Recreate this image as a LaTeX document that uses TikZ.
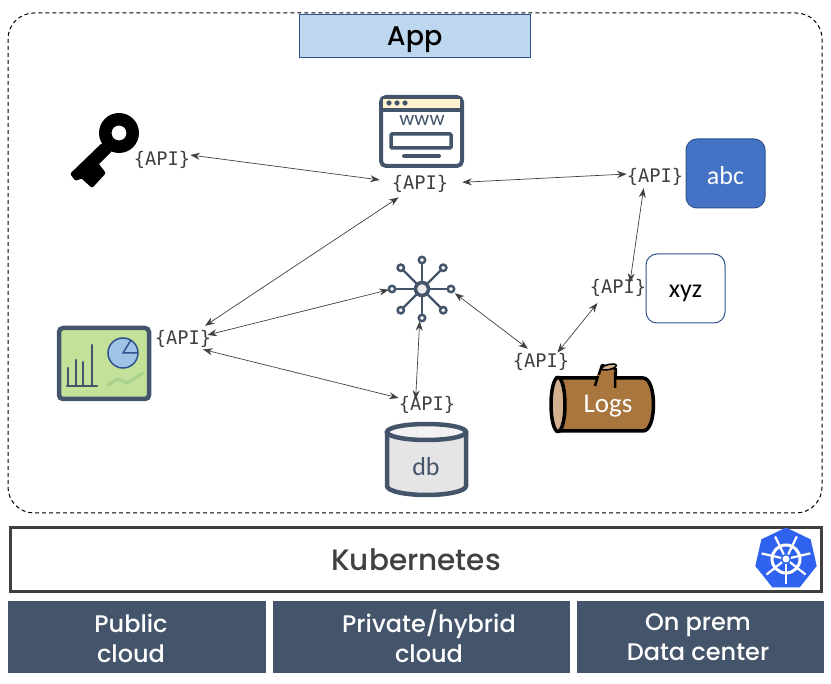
\documentclass[tikz,border=0pt]{standalone}
\usepackage{fontspec}
\setmainfont{Carlito}
\newfontfamily\apifont{DejaVu Sans Mono}
\newfontfamily\titlefont[UprightFont=* Medium]{Poppins}
\usetikzlibrary{arrows.meta,shapes.geometric}
\definecolor{slate}{HTML}{44546A}
\definecolor{rope}{HTML}{404040}
\definecolor{bark}{HTML}{A9763E}
\definecolor{barkcut}{HTML}{D2B08E}
\definecolor{office}{HTML}{4472C4}
\definecolor{officeline}{HTML}{2F528F}
\definecolor{sky}{HTML}{BDD7EE}
\definecolor{pie}{HTML}{9DC3E6}
\definecolor{leaf}{HTML}{C3E199}
\definecolor{trend}{HTML}{A9D18E}
\definecolor{cream}{HTML}{FFF2CC}
\definecolor{kblue}{HTML}{2F62EE}

\begin{document}
\begin{tikzpicture}[x=1pt, y=-1pt, >={Stealth[length=9.5pt,width=7pt]},
    api/.style={font=\apifont\fontsize{18.7}{18}\selectfont, text=rope, inner sep=0pt, minimum width=56pt, minimum height=24pt, text height=16pt, text depth=2.5pt},
    apilink/.style={<->, rope, line width=0.7pt},
    title/.style={font=\titlefont\fontsize{#1}{30}\selectfont, align=center},
    cloud/.style={fill=slate, inner sep=0pt, anchor=north west},
    cloudtext/.style={text=white, inner sep=0pt, title=24},
    box/.style={draw=officeline, line width=1pt, rounded corners=11pt, inner sep=0pt, minimum width=79pt, minimum height=69pt, font=\fontsize{26}{30}\selectfont}]
    \useasboundingbox (0,0) rectangle (831,684);

    % frame and layers
    \draw[dashed, line width=1pt, dash pattern=on 4pt off 3pt, rounded corners=26pt] (8,13) rectangle (822,513);
    \node[draw=officeline, fill=sky, inner sep=0pt, minimum width=231pt, minimum height=43pt, anchor=north west, title=27, text height=23pt, text depth=2.5pt] (app) at (299,14) {App};
    \node[draw=rope, line width=3pt, inner sep=0pt, minimum width=811pt, minimum height=64pt, anchor=north west, text=rope, title=29.5] (kube) at (9,526) {Kubernetes};
    \node[cloud, minimum width=258pt, minimum height=72pt] (public) at (8,601) {};
    \node[cloud, minimum width=297pt, minimum height=72pt] (private) at (273,601) {};
    \node[cloud, minimum width=247pt, minimum height=72pt] (onprem) at (577,601) {};
    \node[cloudtext] (publicText) at (131,638) {Public\\cloud};
    \node[cloudtext] (privateText) at (429,636) {Private/hybrid\\cloud};
    \node[cloudtext] (onpremText) at (698,637) {On prem\\Data center};

    % kubernetes wheel
    \node[regular polygon, regular polygon sides=7, fill=kblue, minimum size=63pt, inner sep=0pt] (helm) at (786,559) {};
    \draw[white, line width=3pt] (helm.center) circle[radius=14];
    \fill[white] (helm.center) circle[radius=3.5];
    \foreach \a in {90,141.4,...,400}
        \draw[white, line width=2.2pt] (helm.center) ++(\a:5) -- ++(\a:20);

    % key
    \fill[black, even odd rule] (119,133) circle[radius=20] (119,133) circle[radius=7.5];
    \draw[black, fill=black, line width=3pt, line join=round] (102,145) -- (72,174) -- (76,179) -- (82,177) -- (92,186) -- (104,173) -- (97,164) -- (110,151) -- cycle;

    % web page
    \filldraw[draw=slate, fill=white, line width=4pt, rounded corners=5pt] (381,97) rectangle (462,166);
    \fill[cream] (383,99) rectangle (460,109);
    \draw[slate, line width=4pt] (380,110) -- (463,110);
    \foreach \x in {389,397,405}
        \fill[slate] (\x,103) circle[radius=2.6];
    \node[text=slate, inner sep=0pt, font=\fontsize{21}{20}\selectfont] (www) at (422,120) {www};
    \draw[slate, line width=3.5pt, rounded corners=1pt] (391,134) rectangle (451,148);
    \draw[slate, line width=4pt, line cap=round] (404,156) -- (439,156);

    % dashboard
    \filldraw[draw=slate, fill=leaf, line width=4.5pt, rounded corners=4pt] (59,328) rectangle (149,399);
    \draw[slate, line width=2.5pt, line cap=round] (67,386) -- (97,386);
    \foreach \x/\y in {68/368,76/360,83/362,92/345}
        \draw[slate, line width=2.5pt, line cap=round] (\x,386) -- (\x,\y);
    \filldraw[draw=officeline, fill=pie, line width=1.5pt] (123,353) circle[radius=15];
    \draw[officeline, line width=1.5pt] (131,340) -- (123,353) -- (138,353);
    \draw[trend, line width=3pt, line cap=round] (108,385) -- (118,379) -- (127,383) -- (143,373);

    % hub
    \foreach \a in {0,45,...,315}
        \draw[slate, line width=2.2pt] (422,289) -- ++(\a:29);
    \foreach \a/\r in {0/29,45/30,90/29,135/30,180/30,225/30,270/29,315/30}
        \filldraw[draw=slate, fill=white, line width=2.5pt] (422,289) ++(\a:\r) circle[radius=3.2];
    \filldraw[draw=slate, fill=black!8, line width=3.5pt] (422,289) circle[radius=6.5];
    \node[circle, inner sep=0pt, minimum size=66pt] (hub) at (422,288) {};

    % database
    \filldraw[draw=slate, fill=black!10, line width=4.5pt] (387,432) -- (387,486) arc[start angle=180, end angle=0, x radius=39.5, y radius=9] -- (466,432);
    \filldraw[draw=slate, fill=black!5, line width=4.5pt] (426.5,432) ellipse[x radius=39.5, y radius=8];
    \node[text=slate, inner sep=0pt, font=\fontsize{26}{30}\selectfont] (db) at (426,467) {db};

    % log
    \filldraw[draw=black, fill=bark, line width=2.5pt, line join=round] (595,386) -- (602,365) -- (616,369) -- (615,388) -- cycle;
    \filldraw[draw=black, fill=barkcut, line width=1.5pt, rotate around={14:(609,367)}] (609,367) ellipse[x radius=7.5, y radius=2.5];
    \filldraw[draw=black, fill=bark, line width=3.5pt] (557,378) -- (643,378) .. controls (657,378) and (657,431) .. (643,431) -- (557,431) -- cycle;
    \fill[bark] (597,375) rectangle (613.5,384);
    \draw[black, line width=2.5pt] (598,376) -- (595,386) (615,372) -- (615,388);
    \filldraw[draw=black, fill=barkcut, line width=3.5pt] (558,404.5) ellipse[x radius=7, y radius=27];
    \node[text=white, inner sep=0pt, font=\fontsize{27}{30}\selectfont, text height=19pt, text depth=3pt] (logs) at (608,405) {Logs};

    % stores
    \node[box, fill=office, text=white, text height=22pt, text depth=0pt] (abc) at (725.5,173.5) {abc};
    \node[box, fill=white, text=black, text height=20pt, text depth=2pt] (xyz) at (685.5,288.5) {xyz};

    % api labels
    \node[api] (apiKey) at (162,159) {\{API\}};
    \node[api] (apiWeb) at (420,183) {\{API\}};
    \node[api] (apiAbc) at (655,176) {\{API\}};
    \node[api] (apiXyz) at (618,287) {\{API\}};
    \node[api] (apiDash) at (183,338) {\{API\}};
    \node[api] (apiDb) at (427,404) {\{API\}};
    \node[api] (apiLog) at (541,361) {\{API\}};

    % api links
    \draw[apilink, shorten >=12pt] (apiKey.8) -- (apiWeb.177);
    \draw[apilink, shorten <=14pt] (apiWeb.east) -- (apiAbc.176);
    \draw[apilink, shorten <=4pt] (apiWeb.214) -- (apiDash.29);
    \draw[apilink, shorten >=-4pt] (hub.183) -- (apiDash.8);
    \draw[apilink, shorten >=-3pt] (apiDb.168) -- (apiDash.-28);
    \draw[apilink, shorten >=-8pt] (hub.266) -- (apiDb.132);
    \draw[apilink] (hub.-9) -- (apiLog.137);
    \draw[apilink, shorten <=-5pt, shorten >=5pt] (apiLog.32) -- (apiXyz.215);
    \draw[apilink, shorten <=-8pt] (apiXyz.43) -- (apiAbc.227);
\end{tikzpicture}
\end{document}
